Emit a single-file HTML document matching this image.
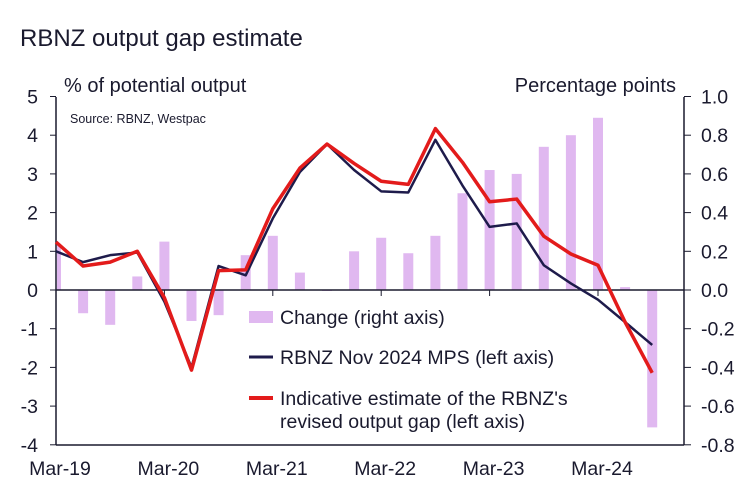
<!DOCTYPE html>
<html><head><meta charset="utf-8"><style>
body{margin:0;background:#fff}
svg text{font-family:"Liberation Sans",Arial,sans-serif;fill:#1a1a2e}
</style></head><body>
<svg id="c" width="747" height="499" viewBox="0 0 747 499">
<text x="20" y="46" font-size="24">RBNZ output gap estimate</text>
<text x="64" y="92" font-size="20">% of potential output</text>
<text x="676" y="92" font-size="20" text-anchor="end">Percentage points</text>
<text x="70" y="123" font-size="12.5">Source: RBNZ, Westpac</text>
<g id="bars"></g><g id="axes"></g><g id="lines"></g>
<g>
<rect x="249" y="311" width="24" height="12" fill="#e0b8f0"/>
<text x="280" y="324" font-size="19.5">Change (right axis)</text>
<line x1="249" y1="357" x2="273" y2="357" stroke="#1e1b4b" stroke-width="3"/>
<text x="280" y="364" font-size="19.5">RBNZ Nov 2024 MPS (left axis)</text>
<line x1="249" y1="398" x2="273" y2="398" stroke="#e31b1b" stroke-width="4"/>
<text x="280" y="405" font-size="19.5">Indicative estimate of the RBNZ's</text>
<text x="280" y="428" font-size="19.5">revised output gap (left axis)</text>
</g>
</svg>
<script>
const change=[0.23,-0.12,-0.18,0.07,0.25,-0.16,-0.13,0.18,0.28,0.09,-0.005,0.2,0.27,0.19,0.28,0.5,0.62,0.6,0.74,0.8,0.89,0.015,-0.71];
const mps=[1.0,0.72,0.9,0.97,-0.3,-2.0,0.62,0.38,1.85,3.05,3.77,3.1,2.55,2.52,3.88,2.7,1.63,1.72,0.64,0.17,-0.25,-0.83,-1.42];
const estimate=[1.24,0.62,0.72,1.0,-0.2,-2.07,0.5,0.52,2.1,3.15,3.77,3.27,2.81,2.73,4.17,3.3,2.28,2.35,1.39,0.93,0.64,-0.83,-2.14];
const leftTicks=[5,4,3,2,1,0,-1,-2,-3,-4];
const rightTicks=["1.0","0.8","0.6","0.4","0.2","0.0","-0.2","-0.4","-0.6","-0.8"];
const xLabels=["Mar-19","Mar-20","Mar-21","Mar-22","Mar-23","Mar-24"];
const NS="http://www.w3.org/2000/svg";
const X=i=>56+i*27.1, YL=v=>290-v*38.7, YR=v=>290-v*193.5;
function mk(t,a,p){const e=document.createElementNS(NS,t);for(const k in a)e.setAttribute(k,a[k]);p.appendChild(e);return e;}
const bars=document.getElementById('bars'),axes=document.getElementById('axes'),lines=document.getElementById('lines');
change.forEach((v,i)=>{const y=YR(Math.max(v,0)),h=Math.abs(YR(v)-YR(0));
const x0=Math.max(X(i)-5,57);
const r=mk('rect',{x:x0,y:y,width:X(i)+5-x0,height:Math.max(h,1),fill:'#e0b8f0'},bars);

});
let e=mk('line',{x1:56,y1:97,x2:56,y2:445,stroke:'#1a1a2e','stroke-width':1.5},axes);

e=mk('line',{x1:684,y1:97,x2:684,y2:445,stroke:'#1a1a2e','stroke-width':1.5},axes);

e=mk('line',{x1:56,y1:290,x2:684,y2:290,stroke:'#1a1a2e','stroke-width':1.5},axes);

e=mk('line',{x1:56,y1:445,x2:684,y2:445,stroke:'#1a1a2e','stroke-width':1.5},axes);

leftTicks.forEach(v=>{mk('line',{x1:50,y1:YL(v),x2:56,y2:YL(v),stroke:'#1a1a2e'},axes);
const t=mk('text',{x:38,y:YL(v)+7,'font-size':19.5,'text-anchor':'end'},axes);t.textContent=v;
});
rightTicks.forEach(s=>{const y=YR(parseFloat(s));mk('line',{x1:684,y1:y,x2:691,y2:y,stroke:'#1a1a2e'},axes);
const t=mk('text',{x:701,y:y+7,'font-size':19.5},axes);t.textContent=s;
});
xLabels.forEach((s,k)=>{const x=X(k*4);mk('line',{x1:x,y1:290,x2:x,y2:296,stroke:'#1a1a2e'},axes);
const t=mk('text',{x:x+4,y:475,'font-size':19.5,'text-anchor':'middle'},axes);t.textContent=s;
});
const p1=mk('polyline',{points:mps.map((v,i)=>X(i)+','+YL(v)).join(' '),fill:'none',stroke:'#1e1b4b','stroke-width':2.5,'stroke-linejoin':'round'},lines);

const p2=mk('polyline',{points:estimate.map((v,i)=>X(i)+','+YL(v)).join(' '),fill:'none',stroke:'#e31b1b','stroke-width':3.5,'stroke-linejoin':'round'},lines);

</script>
</body></html>
